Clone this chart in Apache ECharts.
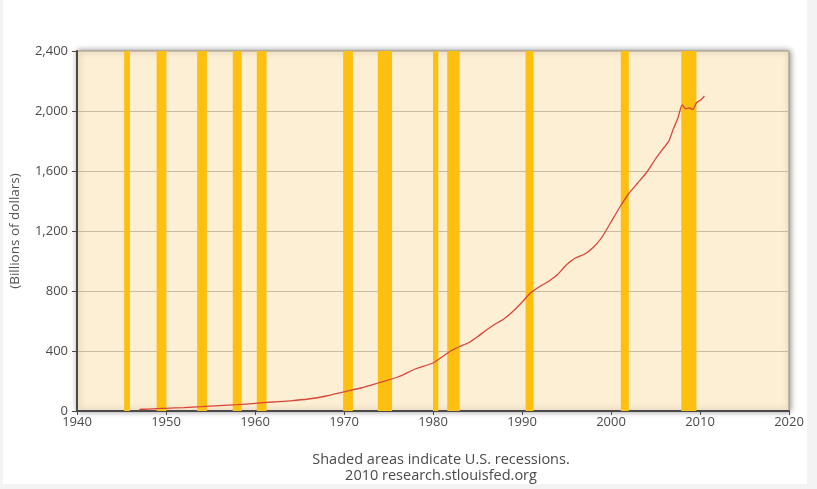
<!DOCTYPE html>
<html>
<head>
<meta charset="utf-8">
<script src="https://cdn.jsdelivr.net/npm/echarts@6/dist/echarts.min.js"></script>
<style>
  html, body { margin: 0; padding: 0; background: #f3f3f3; }
  #bg { position: absolute; left: 3px; top: 0; width: 804px; height: 484px; background: #ffffff; }
  #chart { position: absolute; left: 0; top: 0; width: 817px; height: 489px; }
</style>
</head>
<body>
<div id="bg"></div>
<div id="chart"></div>
<script>
// Data
const years = [1947, 1948, 1949, 1950, 1952, 1954, 1956, 1958, 1960, 1962, 1964, 1966, 1968, 1970, 1972, 1974, 1976, 1978, 1980, 1981, 1982, 1983, 1984, 1985, 1986, 1987, 1988, 1989, 1990, 1991, 1992, 1993, 1994, 1995, 1996, 1997, 1998, 1999, 2000, 2001, 2002, 2003, 2004, 2005, 2006, 2006.5, 2007, 2007.5, 2008, 2008.4, 2008.8, 2009.2, 2009.6, 2010, 2010.5];
const values = [10, 13, 16, 18, 23, 29, 36, 42, 51, 60, 68, 80, 100, 128, 155, 190, 225, 280, 320, 360, 400, 430, 455, 495, 540, 580, 615, 665, 725, 790, 830, 865, 910, 975, 1020, 1045, 1090, 1160, 1260, 1360, 1450, 1520, 1590, 1680, 1760, 1800, 1880, 1950, 2040, 2015, 2020, 2010, 2055, 2070, 2100];
const recessionStarts = [1945.3, 1948.95, 1953.5, 1957.5, 1960.2, 1969.9, 1973.8, 1980.0, 1981.6, 1990.4, 2001.1, 2007.9];
const recessionEnds   = [1945.95, 1950.05, 1954.6, 1958.5, 1961.3, 1971.0, 1975.4, 1980.6, 1983.0, 1991.3, 2002.0, 2009.6];
const yTicks = [0, 400, 800, 1200, 1600, 2000, 2400];
const xTicks = [1940, 1950, 1960, 1970, 1980, 1990, 2000, 2010, 2020];
const yAxisTitle = '(Billions of dollars)';
const footnote = ['Shaded areas indicate U.S. recessions.', '2010 research.stlouisfed.org'];

const lineData = years.map((y, i) => [y, values[i]]);
const bandData = recessionStarts.map((s, i) => [{ xAxis: s }, { xAxis: recessionEnds[i] }]);

const FONT = '"Open Sans", "DejaVu Sans", sans-serif';
const chart = echarts.init(document.getElementById('chart'), null, { renderer: 'canvas' });
chart.setOption({
  backgroundColor: 'transparent',
  animation: false,
  title: {
    text: footnote.join('\n'),
    left: 436,
    textAlign: 'center',
    top: 447,
    textStyle: { fontFamily: FONT, fontSize: 14.5, fontWeight: 'normal', color: '#4a4a4a', lineHeight: 16 }
  },
  grid: {
    left: 77, right: 28, top: 51, bottom: 78,
    containLabel: false,
    outerBoundsMode: 'none',
    show: true,
    backgroundColor: '#fdefd4',
    borderColor: '#9a9080',
    borderWidth: 1,
    shadowColor: 'rgba(0,0,0,0.45)',
    shadowBlur: 6,
    shadowOffsetX: 1,
    shadowOffsetY: 0
  },
  xAxis: {
    type: 'value',
    min: xTicks[0], max: xTicks[xTicks.length - 1], interval: 10,
    axisLine: { show: true, lineStyle: { color: '#4a4a4a', width: 2 } },
    axisTick: { show: true, length: 4, lineStyle: { color: '#4a4a4a' } },
    axisLabel: { fontFamily: FONT, fontSize: 13, color: '#4a4a4a', margin: 5, formatter: v => String(v) },
    splitLine: { show: false }
  },
  yAxis: {
    type: 'value',
    min: yTicks[0], max: yTicks[yTicks.length - 1], interval: 400,
    name: yAxisTitle,
    nameLocation: 'middle',
    nameGap: 55,
    nameRotate: 90,
    nameTextStyle: { fontFamily: FONT, fontSize: 13.5, color: '#555' },
    axisLine: { show: true, lineStyle: { color: '#4a4a4a', width: 2 } },
    axisTick: { show: true, length: 5, lineStyle: { color: '#4a4a4a' } },
    axisLabel: {
      fontFamily: FONT, fontSize: 13, color: '#4a4a4a', margin: 9,
      formatter: v => v.toLocaleString('en-US')
    },
    splitLine: { show: true, lineStyle: { color: '#c9bca6', width: 1 } }
  },
  series: [
    {
      type: 'line',
      name: 'recessions',
      data: [],
      silent: true,
      z: 1,
      markArea: {
        silent: true,
        itemStyle: { color: '#fdc010' },
        data: bandData
      }
    },
    {
      type: 'line',
      name: 'value',
      data: lineData,
      showSymbol: false,
      smooth: 0.2,
      z: 3,
      lineStyle: { color: '#d9453a', width: 1.3 }
    }
  ]
});
</script>
</body>
</html>
